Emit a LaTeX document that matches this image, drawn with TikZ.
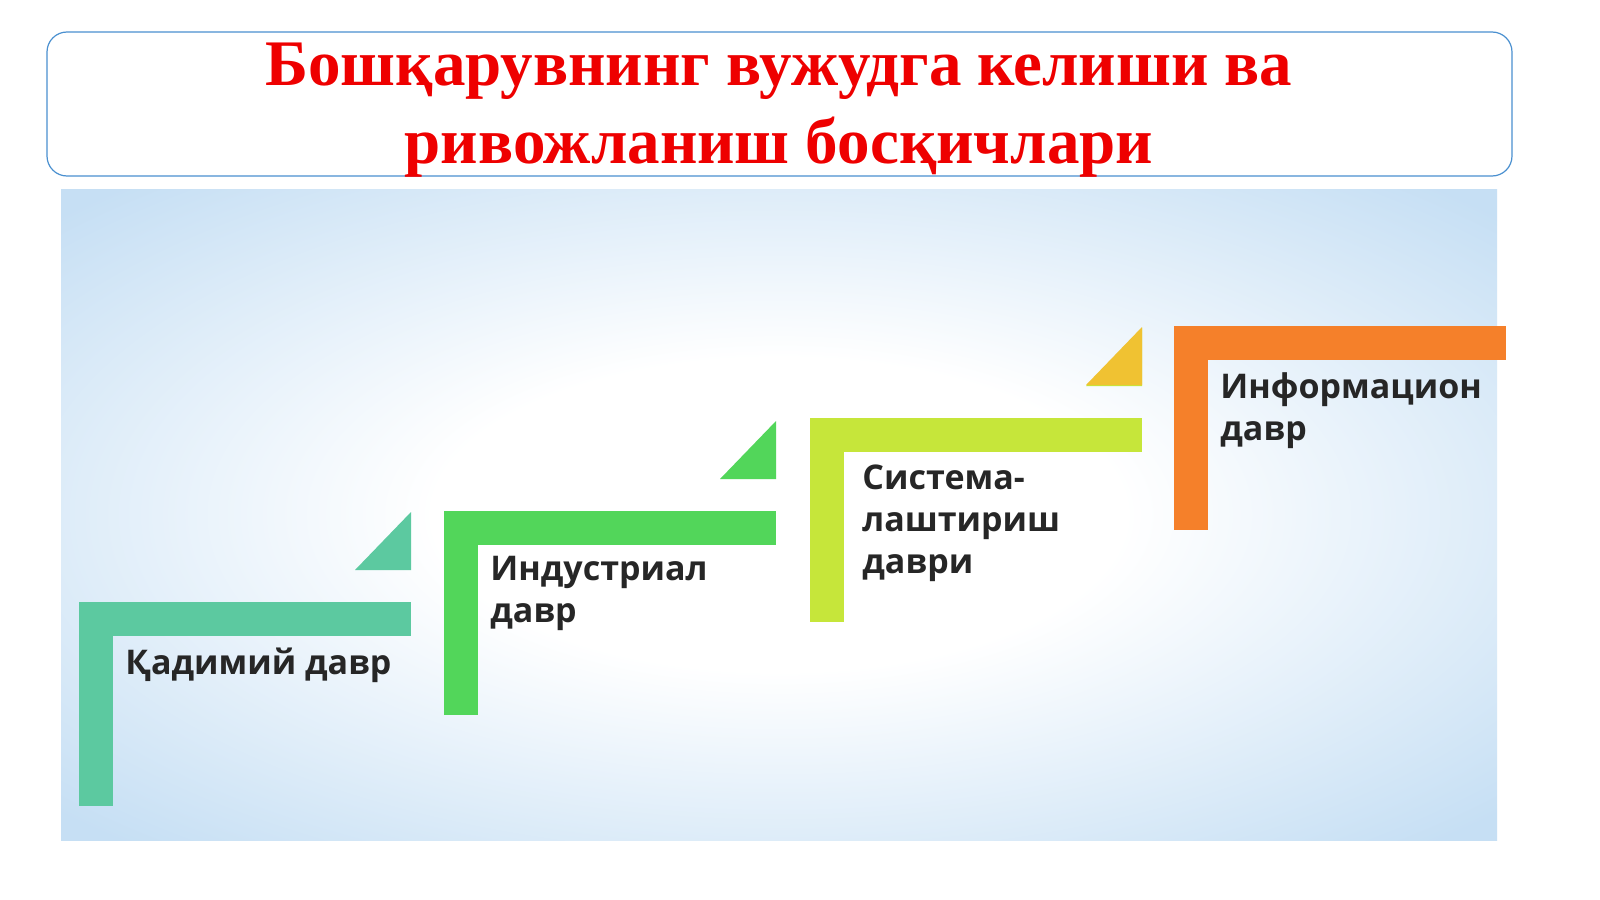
\documentclass[tikz,border=0pt]{standalone}
\usepackage{fontspec}
\setmainfont{Liberation Serif}
\newfontfamily\labelfont{Open Sans}
\definecolor{titlered}{HTML}{EE0000}
\definecolor{boxblue}{HTML}{4A90D0}
\definecolor{skyblue}{HTML}{C6DFF4}
\definecolor{stepteal}{HTML}{5CC9A0}
\definecolor{stepgreen}{HTML}{52D65A}
\definecolor{steplime}{HTML}{C6E63A}
\definecolor{steporange}{HTML}{F5802A}
\definecolor{tipyellow}{HTML}{F0C232}
\pgfdeclareradialshading{panelglow}{\pgfpoint{0bp}{0bp}}{color(0bp)=(white); color(12bp)=(white); color(34bp)=(skyblue); color(80bp)=(skyblue)}
\tikzset{
  steplabel/.style={anchor=north west, align=left, inner sep=0pt,
    font=\labelfont\bfseries\fontsize{17}{21}\selectfont, text=black!85},
  titlebox/.style={draw=boxblue, rounded corners=10pt, line width=0.6pt}
}
\begin{document}
\begin{tikzpicture}[x=0.5pt,y=-0.5pt]
    \fill[white] (0,0) rectangle (1600,899);

    % title
    \draw[titlebox] (47,32) rectangle (1512,176);
    \node[text=titlered, font=\bfseries\fontsize{32.5}{39}\selectfont, align=center] (title) at (779,110)
      {Бошқарувнинг вужудга келиши ва\\ривожланиш босқичлари};

    % background panel
    \shade[shading=panelglow] (61,189) rectangle (1497,840);

    % steps: x, y, colour
    \foreach \sx/\sy/\col [count=\i] in {79/602/stepteal, 444/511/stepgreen,
        810/418/steplime, 1174/326/steporange} {
      \fill[\col] (\sx,\sy) rectangle ++(332,34);
      \fill[\col] (\sx,\sy) rectangle ++(34,204);
      \ifnum\i<4
        \fill[\col] (\sx+276,\sy-32) -- (\sx+332,\sy-32) -- (\sx+332,\sy-90) -- cycle;
      \fi
    }
    \fill[steporange] (1174,326) rectangle (1497,360);
    \fill[tipyellow] (1086,385) -- (1142,385) -- (1142,327) -- cycle;

    % labels
    \node[steplabel] (kadim) at (125,648) {Қадимий давр};
    \node[steplabel] (indust) at (490,556) {Индустриал\\давр};
    \node[steplabel] (system) at (862,464) {Система-\\лаштириш\\даври};
    \node[steplabel] (inform) at (1220,372) {Информацион\\давр};

    \pgfresetboundingbox
    \useasboundingbox (0,0) rectangle (1600,899);
\end{tikzpicture}
\end{document}
